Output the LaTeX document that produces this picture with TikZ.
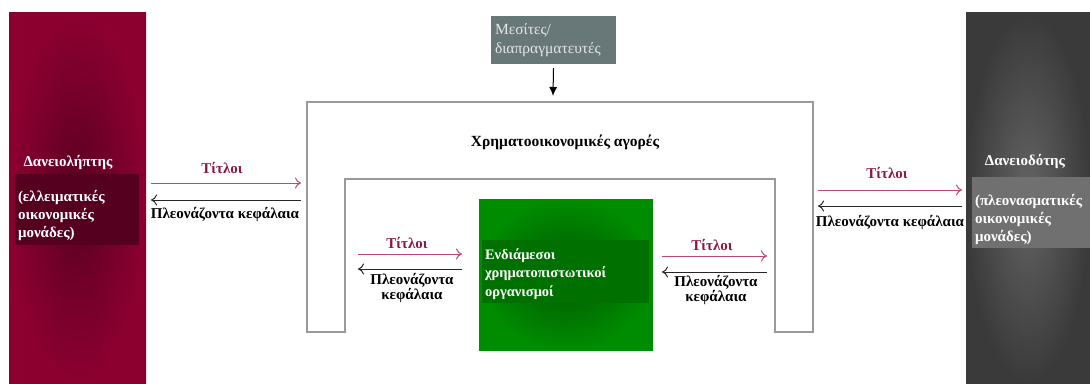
\documentclass[tikz,border=0pt]{standalone}
\usepackage{fontspec}
\setmainfont{Liberation Serif}
\usetikzlibrary{arrows.meta}
\definecolor{bordeaux}{RGB}{140,0,48}
\definecolor{bordeauxfonce}{RGB}{88,0,32}
\definecolor{bordeauxencart}{RGB}{84,0,30}
\definecolor{vert}{RGB}{0,140,0}
\definecolor{vertfonce}{RGB}{0,88,0}
\definecolor{vertencart}{RGB}{0,112,0}
\definecolor{grisfonce}{RGB}{58,58,58}
\definecolor{grisclair}{RGB}{100,100,100}
\definecolor{grisencart}{RGB}{112,112,112}
\definecolor{ardoise}{RGB}{104,120,120}
\definecolor{rose}{RGB}{185,75,115}
\definecolor{rosetexte}{RGB}{140,25,70}
\begin{document}
\begin{tikzpicture}[x=1pt,y=-1pt]
      \tikzstyle{bande}=[inner sep=0pt, minimum height=371pt]
      \tikzstyle{encart}=[inner sep=3pt, minimum height=71pt, align=left, text=white, font=\fontsize{15}{18}\selectfont\bfseries]
      \tikzstyle{titre}=[text=white, font=\fontsize{15}{16}\selectfont\bfseries]
      \tikzstyle{texte}=[font=\fontsize{15}{14}\selectfont\bfseries, align=center]
      \tikzstyle{titres}=[text=rosetexte, font=\fontsize{15}{16}\selectfont\bfseries]
      \tikzstyle{fleche}=[-{To[length=6pt,width=11pt]}, rose, line width=1pt]
      \tikzstyle{retour}=[-{To[length=6pt,width=11pt]}, black!85, line width=1pt]
      \tikzstyle{cadre}=[draw=black!40, line width=1.2pt]

      \useasboundingbox (0,0) rectangle (1090,383);

      % emprunteur
      \node[bande, minimum width=137pt, inner color=bordeauxfonce, outer color=bordeaux] (Lept) at (77.5,197.5) {};
      \node[titre] (LeptNom) at (68,163) {Δανειολήπτης};
      \node[encart, fill=bordeauxencart, text width=118pt] (LeptIn) at (77,209.5) {\rule{0pt}{23pt}(ελλειματικές\\οικονομικές\\μονάδες)};

      % preteur
      \node[bande, minimum width=124pt, inner color=grisclair, outer color=grisfonce] (Dot) at (1028,197.5) {};
      \node[titre] (DotNom) at (1025,162) {Δανειοδότης};
      \node[encart, fill=grisencart, text width=112pt] (DotIn) at (1031,212.5) {\rule{0pt}{25pt}(πλεονασματικές\\οικονομικές\\μονάδες)};

      % marches
      \draw[cadre] (307,332) -- (307,102) -- (813,102) -- (813,332) -- (775,332) -- (775,179) -- (345,179) -- (345,332) -- cycle;
      \coordinate (MarHaut) at (553,102);
      \node[texte, font=\fontsize{15.5}{16}\selectfont\bfseries] (Mar) at (565,142) {Χρηματοοικονομικές αγορές};

      \node[fill=ardoise, minimum width=125pt, minimum height=48pt, text width=117pt, inner sep=4pt, align=left, text=black!10, font=\fontsize{15.5}{19}\selectfont] (Mes) at (553.5,40) {Μεσίτες/\\διαπραγματευτές};
      \draw[-{Latex[length=9pt,width=8pt]}, line width=1pt] (Mes.south) ++(0,4) -- ([yshift=6pt]MarHaut);

      % intermediaires
      \node[minimum width=174pt, minimum height=151pt, inner color=vertfonce, outer color=vert] (Endi) at (566,274.5) {};
      \node[encart, fill=vertencart, text width=161pt, minimum height=63pt, font=\fontsize{14.5}{18.5}\selectfont\bfseries] (EndiIn) at (565.5,271.5) {\rule{0pt}{16pt}Ενδιάμεσοι\\χρηματοπιστωτικοί\\οργανισμοί};

      % fleches exterieures
      \coordinate (g1) at (151,183); \coordinate (g2) at (301,183);
      \coordinate (g3) at (151,200); \coordinate (g4) at (301,200);
      \draw[fleche] (g1)--(g2);
      \draw[retour] (g4)--(g3);
      \node[titres] (TitG) at (222,168) {Τίτλοι};
      \node[texte] (KefG) at (225,215) {Πλεονάζοντα κεφάλαια};

      \coordinate (d1) at (818,190); \coordinate (d2) at (962,190);
      \coordinate (d3) at (818,206); \coordinate (d4) at (962,206);
      \draw[fleche] (d1)--(d2);
      \draw[retour] (d4)--(d3);
      \node[titres] (TitD) at (887,173) {Τίτλοι};
      \node[texte] (KefD) at (890,223) {Πλεονάζοντα κεφάλαια};

      % fleches interieures
      \coordinate (gi1) at (358,254); \coordinate (gi2) at (462,254);
      \coordinate (gi3) at (358,269); \coordinate (gi4) at (462,269);
      \draw[fleche] (gi1)--(gi2);
      \draw[retour] (gi4)--(gi3);
      \node[titres] (TitGi) at (407,243) {Τίτλοι};
      \node[texte] (KefGi) at (412,288) {Πλεονάζοντα\\κεφάλαια};

      \coordinate (di1) at (662,256); \coordinate (di2) at (767,256);
      \coordinate (di3) at (662,272); \coordinate (di4) at (767,272);
      \draw[fleche] (di1)--(di2);
      \draw[retour] (di4)--(di3);
      \node[titres] (TitDi) at (712,245) {Τίτλοι};
      \node[texte] (KefDi) at (716,290) {Πλεονάζοντα\\κεφάλαια};

    \end{tikzpicture}
\end{document}
